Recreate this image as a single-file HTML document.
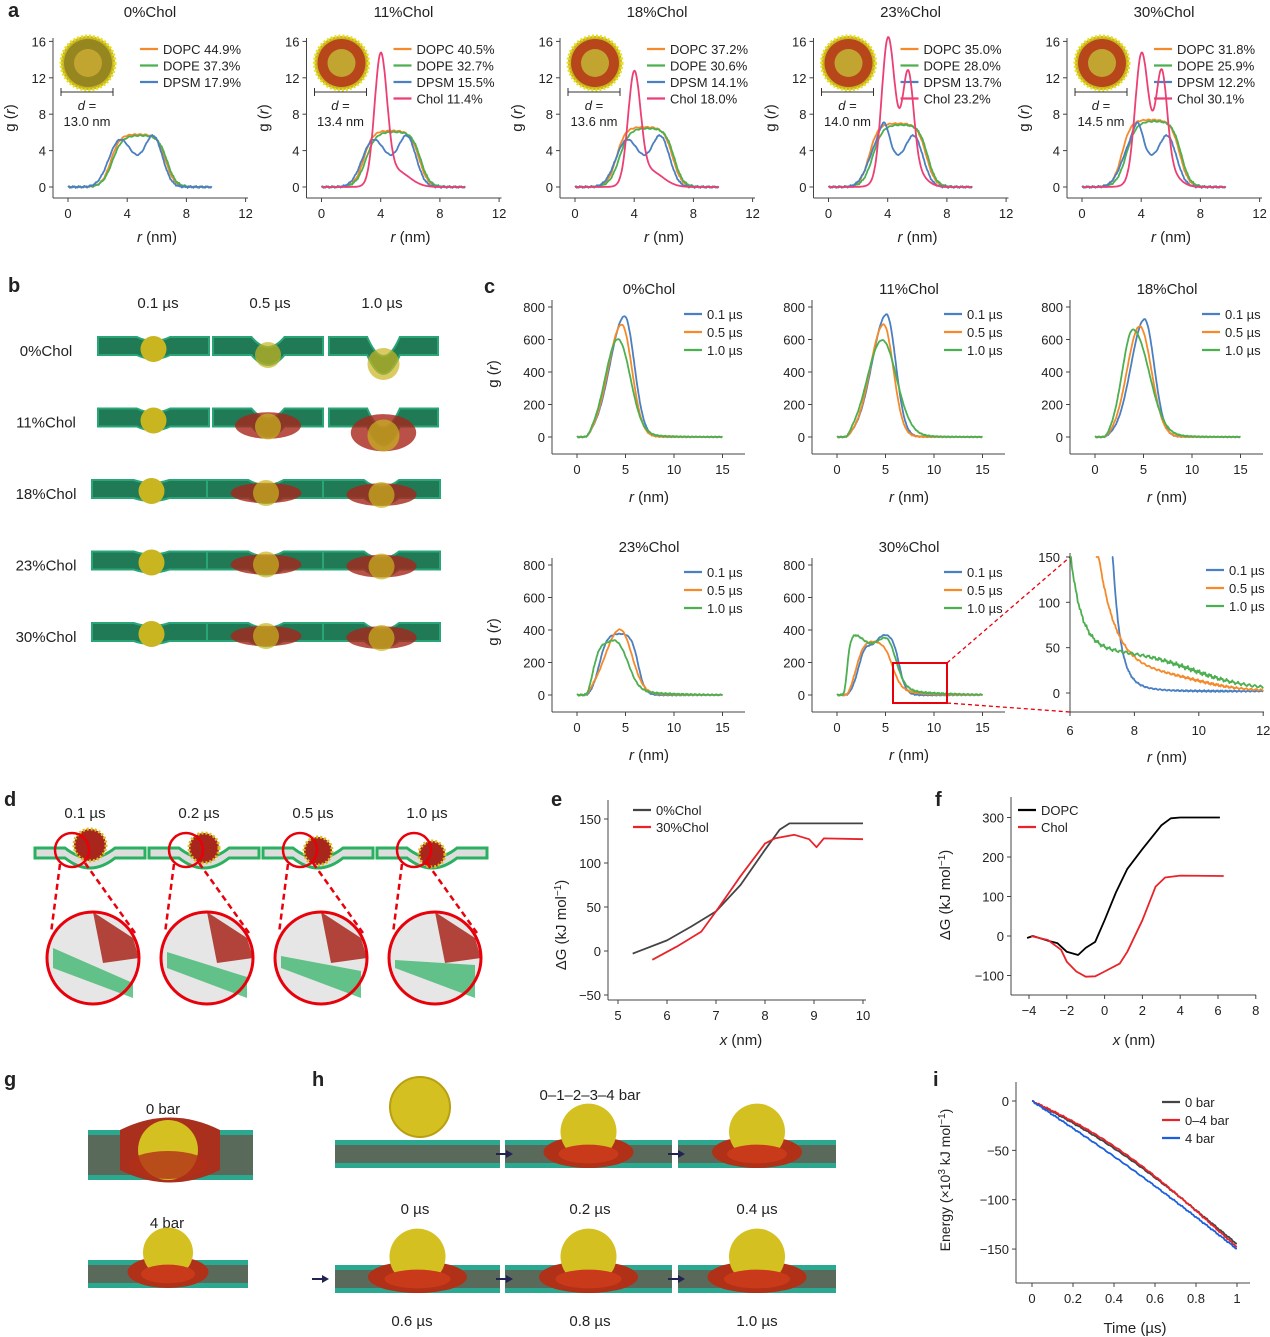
<!DOCTYPE html>
<html><head><meta charset="utf-8"><style>
html,body{margin:0;padding:0;background:#fff}
svg{display:block}
text{font-family:"Liberation Sans",sans-serif;fill:#222}
</style></head><body>
<svg id="s" width="1270" height="1337" viewBox="0 0 1270 1337" xmlns="http://www.w3.org/2000/svg"></svg>
<script>
const S=document.getElementById('s');let H='';
function T(x,y,t,o={}){H+=`<text x="${x}" y="${y}" font-size="${o.fs||13}" text-anchor="${o.a||'middle'}" ${o.w?'font-weight="bold"':''} ${o.it?'font-style="italic"':''} ${o.r?`transform="rotate(-90 ${x} ${y})"`:''} fill="${o.c||'#222'}">${t}</text>`;}
function L(x1,y1,x2,y2,c='#555',w=1,d=''){H+=`<line x1="${x1}" y1="${y1}" x2="${x2}" y2="${y2}" stroke="${c}" stroke-width="${w}" ${d?`stroke-dasharray="${d}"`:''}/>`;}
function P(pts,c,w=1.8){H+=`<polyline fill="none" stroke="${c}" stroke-width="${w}" stroke-linejoin="round" points="${pts.map(p=>p[0].toFixed(1)+','+p[1].toFixed(1)).join(' ')}"/>`;}
function sig(x){return 1/(1+Math.exp(-x));}
function g(x,m,s){return Math.exp(-(x-m)*(x-m)/(2*s*s));}
function ag(x,m,s1,s2){return x<m?g(x,m,s1):g(x,m,s2);}
function axes(o){
  L(o.sl,o.st,o.sl,o.sb,'#444');L(o.sl,o.sb,o.sr,o.sb,'#444');
  o.xt.forEach(v=>{const x=o.fx(v);L(x,o.sb,x,o.sb+4,'#444');T(x,o.sb+20,v<0?'\u2212'+(-v):v);});
  o.yt.forEach(v=>{const y=o.fy(v);L(o.sl-4,y,o.sl,y,'#444');T(o.sl-7,y+5,v<0?'\u2212'+(-v):v,{a:'end'});});
}
function curve(f,a,b,fx,fy,c,n=200,noise=0,cap=1e9){const p=[];for(let i=0;i<=n;i++){const x=a+(b-a)*i/n;p.push([fx(x),fy(Math.min(cap,f(x)+(noise?noise*Math.sin(i*7.3)*Math.sin(i*2.1):0)))]);}P(p,c);}
const OR='#f58a2b',GR='#4caf50',BL='#4a7fc1',PK='#ec3f73',RD='#e8232a';
function leg(x,y,items,dy=16.5,fs=13){items.forEach((it,i)=>{L(x,y+i*dy,x+18,y+i*dy,it[1],2.2);T(x+23,y+i*dy+5,it[0],{a:'start',fs});});}

// panel a
const titlesA=['0%Chol','11%Chol','18%Chol','23%Chol','30%Chol'];
const legA=[[['DOPC 44.9%',OR],['DOPE 37.3%',GR],['DPSM 17.9%',BL]],
[['DOPC 40.5%',OR],['DOPE 32.7%',GR],['DPSM 15.5%',BL],['Chol 11.4%',PK]],
[['DOPC 37.2%',OR],['DOPE 30.6%',GR],['DPSM 14.1%',BL],['Chol 18.0%',PK]],
[['DOPC 35.0%',OR],['DOPE 28.0%',GR],['DPSM 13.7%',BL],['Chol 23.2%',PK]],
[['DOPC 31.8%',OR],['DOPE 25.9%',GR],['DPSM 12.2%',BL],['Chol 30.1%',PK]]];
const dA=['13.0','13.4','13.6','14.0','14.5'];
const chol=[0,13.8,11.8,14,12.3],chol2=[0,0,0,8.7,8.8];
T(8,17,'a',{w:1,fs:20,a:'start'});
for(let i=0;i<5;i++){const ox=253.5*i;const fx=r=>68+ox+14.8*r,fy=v=>187-9.1*v;
 axes({sl:53+ox,st:38,sb:198,sr:248+ox,fx,fy,xt:[0,4,8,12],yt:[0,4,8,12,16]});
 T(150+ox,17,titlesA[i],{fs:15});T(157+ox,242,'<tspan font-style="italic">r</tspan> (nm)',{fs:15});
 T(15+ox,118,'g (<tspan font-style="italic">r</tspan>)',{fs:15,r:1});
 leg(140+ox,49,legA[i]);
 const cx=88+ox,cy=63;H+=`<circle cx="${cx}" cy="${cy}" r="27" fill="#c9b520"/><circle cx="${cx}" cy="${cy}" r="24" fill="${i?'#b32a1a':'#8a7a20'}" opacity="0.8"/><circle cx="${cx}" cy="${cy}" r="14" fill="#c2a530"/><circle cx="${cx}" cy="${cy}" r="27" fill="none" stroke="#e5e020" stroke-width="3" stroke-dasharray="2 2"/>`;
 L(61+ox,92,113+ox,92,'#333');L(61+ox,88,61+ox,96,'#333');L(113+ox,88,113+ox,96,'#333');
 T(87+ox,110,'<tspan font-style="italic">d</tspan> =',{});T(87+ox,126,dA[i]+' nm',{});
 const c=i*0.25, h=5.8+i*0.4;
 curve(r=>h*sig((r-2.9+c*0.2)/0.3)*sig((6.6-r)/0.3),0,9.7,fx,fy,OR,150,0.1);
 curve(r=>h*0.98*sig((r-3.0)/0.33)*sig((6.7-r)/0.3),0,9.7,fx,fy,GR,150,0.1);
 curve(r=>4.6*g(r,3.4,0.7)+5.3*g(r,5.8,0.6)+1.8*g(r,4.5,0.7)+(i>=3?2:0)*g(r,3.8,0.3),0,9.7,fx,fy,BL,150,0.1);
 if(i)curve(r=>chol[i]*g(r,4,0.42)+chol2[i]*g(r,5.4,0.35)+4.5*g(r,5,0.9)*(i>=3?1:0.4),0,9.7,fx,fy,PK,200);
}

// panel b
T(8,292,'b',{w:1,fs:20,a:'start'});
['0.1 µs','0.5 µs','1.0 µs'].forEach((t,i)=>T(158+i*112,308,t,{fs:15}));
const rowsB=['0%Chol','11%Chol','18%Chol','23%Chol','30%Chol'];
function slab(x,y,w,h,dip,red){
 H+=`<path d="M${x},${y} L${x+w*0.35},${y} Q${x+w/2},${y+dip} ${x+w*0.65},${y} L${x+w},${y} L${x+w},${y+h} L${x+w*0.65},${y+h} Q${x+w/2},${y+h+dip} ${x+w*0.35},${y+h} L${x},${y+h} Z" fill="#1f7a55" stroke="#2aa578" stroke-width="2"/>`;
 if(red)H+=`<ellipse cx="${x+w/2}" cy="${y+h/2+dip*0.4}" rx="${w*0.3}" ry="${h*0.4+dip*0.3}" fill="#a8261c" opacity="0.8"/>`;
}
rowsB.forEach((t,j)=>{const y=337+j*71.5;T(46,y+19,t,{fs:15});
 const dips=j<2?[8,20,38]:[6,10,14];
 [[98,111],[213,110],[329,109]].forEach((c,k)=>{const x=c[0]-(j>=2?6:0);slab(x,y,c[1]+(j>=2?8:0),18,dips[k],j>0&&k>0);
  const cy=y+8+dips[k]*0.5;H+=`<circle cx="${x+c[1]/2+(j>=2?4:0)}" cy="${cy}" r="${k==2&&j<2?16:13}" fill="#c9b520" opacity="${k==0?1:0.7}"/>`;});
});

// panel c
T(484,293,'c',{w:1,fs:20,a:'start'});
const cpos=[[577,437,'0%Chol'],[837,437,'11%Chol'],[1095,437,'18%Chol'],[577,695,'23%Chol'],[837,695,'30%Chol']];
const cprm=[
 [[740,4.9,1.5,1.0],[690,4.6,1.4,1.05],[600,4.2,1.3,1.25]],
 [[750,5.1,1.5,0.95],[690,4.8,1.4,1.0],[590,4.6,1.5,1.5]],
 [[720,5.1,1.4,1.0],[680,4.6,1.3,1.2],[660,3.9,1.1,1.6]]];
cpos.forEach((p,i)=>{const fx=r=>p[0]+9.7*r,fy=v=>p[1]-0.1625*v;
 axes({sl:p[0]-25,st:p[1]-137,sb:p[1]+17,sr:p[0]+168,fx,fy,xt:[0,5,10,15],yt:[0,200,400,600,800]});
 T(p[0]+72,p[1]-143,p[2],{fs:15});
 T(p[0]+72,p[1]+65,'<tspan font-style="italic">r</tspan> (nm)',{fs:15});
 if(i==0||i==3)T(p[0]-79,p[1]-63,'g (<tspan font-style="italic">r</tspan>)',{fs:15,r:1});
 leg(p[0]+107,p[1]-123,[['0.1 µs',BL],['0.5 µs',OR],['1.0 µs',GR]],18,13);
 const on=r=>sig((r-1.2)/0.15);
 if(i<3){
  const k=cprm[i];const cols=[BL,OR,GR];
  k.forEach((q,j)=>curve(r=>on(r)*(q[0]*ag(r,q[1],q[2],q[3])+(j==2?25*sig((r-5)/0.3)*Math.exp(-(r-5)/2.5):8*sig((r-5)/0.3)*Math.exp(-(r-5)/2.5))),0,15,fx,fy,cols[j],220,3));
 } else if(i==3){
  curve(r=>on(r)*380*sig((r-2.3)/0.4)*sig((6.3-r)/0.35),0,15,fx,fy,BL,200,4);
  curve(r=>on(r)*(400*ag(r,4.4,1.5,1.2)+20*sig((r-5)/0.3)*Math.exp(-(r-5)/2.5)),0,15,fx,fy,OR,200,4);
  curve(r=>on(r)*(380*sig((r-1.8)/0.4)*sig((5.2-r)/0.55)*(1-0.1*g(r,3,0.6))+30*sig((r-5)/0.3)*Math.exp(-(r-5)/3)),0,15,fx,fy,GR,200,5);
 } else {
  curve(r=>on(r)*(380*sig((r-2.3)/0.4)*sig((6.4-r)/0.35)*(1-0.15*g(r,3.6,0.6))),0,15,fx,fy,BL,200,4);
  curve(r=>on(r)*(340*sig((r-2.0)/0.4)*sig((5.6-r)/0.5)+40*sig((r-5)/0.3)*Math.exp(-(r-5)/2.5)),0,15,fx,fy,OR,200,4);
  curve(r=>sig((r-0.9)/0.12)*(400*sig((r-1.0)/0.25)*sig((6-r)/0.5)*(1-0.2*g(r,3.5,1))+45*sig((r-5)/0.3)*Math.exp(-(r-5)/3.5)),0,15,fx,fy,GR,200,5);
 }
});
// zoom inset
H+=`<rect x="893" y="663" width="54" height="40" fill="none" stroke="#e8000b" stroke-width="2"/>`;
L(947,663,1070,557,'#e8000b',1.3,'4 3');L(947,703,1070,712,'#e8000b',1.3,'4 3');
{const fx=r=>1070+32.2*(r-6),fy=v=>693-0.907*v;
 L(1070,553,1070,712,'#444');L(1070,712,1264,712,'#444');
 [6,8,10,12].forEach(v=>{L(fx(v),712,fx(v),716,'#444');T(fx(v),735,v);});
 [0,50,100,150].forEach(v=>{L(1066,fy(v),1070,fy(v),'#444');T(1060,fy(v)+5,v,{a:'end'});});
 T(1167,762,'<tspan font-style="italic">r</tspan> (nm)',{fs:15});
 leg(1206,570,[['0.1 µs',BL],['0.5 µs',OR],['1.0 µs',GR]],18,13);
 curve(r=>150*Math.exp(-(r-7.3)/0.22)+6*Math.exp(-(r-8)/0.6)+2,7.3,12,fx,fy,BL,200,1,150);
 curve(r=>150*Math.exp(-(r-6.8)/0.55)+22*sig((10-r)/0.7)+2,6.8,12,fx,fy,OR,200,1.5,150);
 curve(r=>110*Math.exp(-(r-6)/0.35)+45*sig((9.8-r)/0.9)+3,6,12,fx,fy,GR,200,2.5,150);
}

// panel d
T(4,806,'d',{w:1,fs:20,a:'start'});
['0.1 µs','0.2 µs','0.5 µs','1.0 µs'].forEach((t,i)=>{const x=85+i*114;T(x,818,t,{fs:15});
 const mx=35+i*114;
 H+=`<path d="M${mx},848 L${mx+30},848 Q${mx+55},${868} ${mx+80},848 L${mx+110},848 L${mx+110},858 L${mx+80},858 Q${mx+55},${878} ${mx+30},858 L${mx},858 Z" fill="#ddd" stroke="#2ab060" stroke-width="3"/>`;
 H+=`<circle cx="${mx+55}" cy="${845+i*3}" r="${16-i}" fill="#a8261c"/><circle cx="${mx+55}" cy="${845+i*3}" r="${16-i}" fill="none" stroke="#d6c020" stroke-width="3" stroke-dasharray="2 2"/>`;
 H+=`<circle cx="${mx+37}" cy="850" r="17" fill="none" stroke="#e8000b" stroke-width="2.5"/>`;
 const cx=mx+58,cy=958;L(mx+25,864,cx-42,cy-25,'#e8000b',2.5,'6 4');L(mx+50,863,cx+42,cy-25,'#e8000b',2.5,'6 4');
 H+=`<circle cx="${cx}" cy="${cy}" r="46" fill="#e6e6e6"/><path d="M${cx-40},${cy-10+i*4} L${cx+40},${cy+25-i*6} L${cx+40},${cy+40} L${cx-40},${cy+10}Z" fill="#2ab060" opacity="0.7"/><path d="M${cx},${cy-46} L${cx+40},${cy-20} L${cx+46},${cy} L${cx+10},${cy+5}Z" fill="#a8261c" opacity="0.85"/><circle cx="${cx}" cy="${cy}" r="46" fill="none" stroke="#e8000b" stroke-width="3"/>`;
});

// panel e
T(551,806,'e',{w:1,fs:20,a:'start'});
{const fx=x=>618+49*(x-5),fy=v=>951-0.88*v;
 axes({sl:608,st:800,sb:1000,sr:866,fx,fy,xt:[5,6,7,8,9,10],yt:[-50,0,50,100,150]});
 T(741,1045,'<tspan font-style="italic">x</tspan> (nm)',{fs:15});
 T(566,925,'ΔG (kJ mol<tspan dy="-5" font-size="10">−1</tspan><tspan dy="5">)</tspan>',{fs:15,r:1});
 leg(633,810,[['0%Chol','#444'],['30%Chol',RD]],17,13);
 const gy=[[5.3,-3],[6,12],[6.5,28],[7,45],[7.5,75],[8,115],[8.3,138],[8.5,145],[10,145]];
 P(gy.map(p=>[fx(p[0]),fy(p[1])]),'#444');
 const ry=[[5.7,-10],[6.2,5],[6.7,22],[7,45],[7.5,85],[8,122],[8.2,128],[8.6,132],[8.9,127],[9.05,118],[9.2,128],[10,127]];
 P(ry.map(p=>[fx(p[0]),fy(p[1])]),RD);
}

// panel f
T(935,806,'f',{w:1,fs:20,a:'start'});
{const fx=x=>1029+18.9*(x+4),fy=v=>936-0.395*v;
 axes({sl:1011,st:797,sb:995,sr:1256,fx,fy,xt:[-4,-2,0,2,4,6,8],yt:[-100,0,100,200,300]});
 T(1134,1045,'<tspan font-style="italic">x</tspan> (nm)',{fs:15});
 T(950,895,'ΔG (kJ mol<tspan dy="-5" font-size="10">−1</tspan><tspan dy="5">)</tspan>',{fs:15,r:1});
 leg(1018,810,[['DOPC','#000'],['Chol',RD]],17,13);
 const dop=[[-4.1,-5],[-3.8,0],[-3,-12],[-2.5,-18],[-2,-40],[-1.4,-48],[-1,-30],[-0.5,-15],[0,40],[0.6,110],[1.2,170],[2,220],[3,280],[3.5,298],[4,300],[6.1,300]];
 P(dop.map(p=>[fx(p[0]),fy(p[1])]),'#000');
 const ch=[[-3.9,0],[-3,-10],[-2.3,-35],[-2,-65],[-1.5,-90],[-1,-103],[-0.5,-102],[0,-90],[0.8,-70],[1.2,-40],[2,40],[2.7,125],[3.2,148],[4,153],[6.3,152]];
 P(ch.map(p=>[fx(p[0]),fy(p[1])]),RD);
}

// panel g
T(4,1086,'g',{w:1,fs:20,a:'start'});
T(163,1114,'0 bar',{fs:15});T(167,1228,'4 bar',{fs:15});
function mem(x,y,w,h,bump,br){H+=`<rect x="${x}" y="${y}" width="${w}" height="${h}" fill="#5a6a5a"/><rect x="${x}" y="${y}" width="${w}" height="5" fill="#2aa890"/><rect x="${x}" y="${y+h-5}" width="${w}" height="5" fill="#2aa890"/>`;
 if(bump)H+=`<ellipse cx="${x+w/2}" cy="${y+h/2-2}" rx="${bump*0.9}" ry="${h/2+2}" fill="#b03018"/><circle cx="${x+w/2}" cy="${y-br*0.3}" r="${br}" fill="#d4c020"/><ellipse cx="${x+w/2}" cy="${y+h/2}" rx="${bump*0.6}" ry="${h/3}" fill="#c83a1a"/>`;}
mem(88,1130,165,50,0,0);H+=`<path d="M120,1130 Q170,1105 220,1130 L220,1170 Q170,1195 120,1170Z" fill="#a8301c"/><circle cx="168" cy="1150" r="30" fill="#d4c020"/><ellipse cx="168" cy="1165" rx="40" ry="14" fill="#b03018" opacity="0.8"/>`;
mem(88,1260,160,28,45,25);

// panel h
T(312,1086,'h',{w:1,fs:20,a:'start'});
T(590,1100,'0–1–2–3–4 bar',{fs:15});
H+=`<circle cx="420" cy="1107" r="30" fill="#d4c020" stroke="#b8a010" stroke-width="2"/>`;
mem(335,1140,165,28,0,0);mem(505,1140,167,28,50,28);mem(678,1140,158,28,50,28);
mem(335,1265,165,28,55,28);mem(505,1265,167,28,55,28);mem(678,1265,158,28,55,28);
[[500,1154],[672,1154],[316,1279],[500,1279],[672,1279]].forEach(a=>{L(a[0]-4,a[1],a[0]+8,a[1],'#225',2);H+=`<polygon points="${a[0]+13},${a[1]} ${a[0]+6},${a[1]-4} ${a[0]+6},${a[1]+4}" fill="#225"/>`;});
[['0 µs',415,1214],['0.2 µs',590,1214],['0.4 µs',757,1214],['0.6 µs',412,1326],['0.8 µs',590,1326],['1.0 µs',757,1326]].forEach(t=>T(t[1],t[2],t[0],{fs:15}));

// panel i
T(933,1086,'i',{w:1,fs:20,a:'start'});
{const fx=x=>1032+205*x,fy=v=>1101-0.987*v;
 axes({sl:1016,st:1082,sb:1283,sr:1250,fx,fy,xt:[0,0.2,0.4,0.6,0.8,1.0],yt:[-150,-100,-50,0]});
 T(1135,1333,'Time (µs)',{fs:15});
 T(950,1180,'Energy (×10<tspan dy="-5" font-size="10">3</tspan><tspan dy="5"> kJ mol</tspan><tspan dy="-5" font-size="10">−1</tspan><tspan dy="5">)</tspan>',{fs:14,r:1});
 leg(1162,1102,[['0 bar','#444'],['0–4 bar',RD],['4 bar','#1a5fe0']],18,13);
 curve(x=>-145*x+12*Math.sin(x*Math.PI)*(1-x*0.3),0,1,fx,fy,'#444',150,0.8);
 curve(x=>-148*x+16*Math.sin(x*Math.PI)*(1-x*0.3),0,1,fx,fy,RD,150,0.8);
 curve(x=>-150*x+4*Math.sin(x*Math.PI),0,1,fx,fy,'#1a5fe0',150,0.8);
}
S.innerHTML=H;
</script>
</body></html>
